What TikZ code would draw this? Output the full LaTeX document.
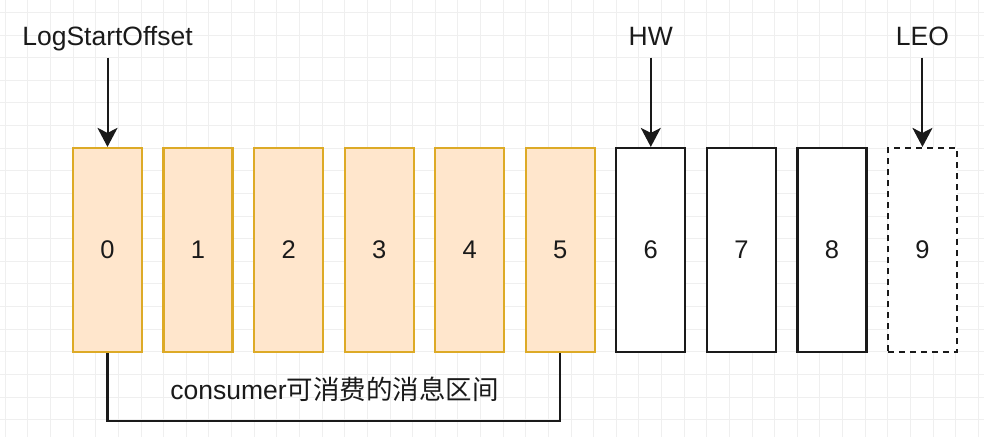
\documentclass[tikz,border=0pt]{standalone}
\usepackage{fontspec}
\setmainfont{Liberation Sans}
\newfontfamily\cjk{Noto Sans CJK SC}
\usetikzlibrary{arrows.meta}
\definecolor{orangefill}{HTML}{FFE6CC}
\definecolor{orangeline}{HTML}{D79B00}
\definecolor{gridc}{HTML}{EFEFEF}
\definecolor{inkc}{HTML}{1A1A1A}
\tikzset{
  gridline/.style={draw=gridc, line width=0.8pt},
  cellbox/.style={draw=inkc, fill=white, line width=2.2pt, minimum width=69pt,
    minimum height=204pt, inner sep=0pt, font=\fontsize{25.5}{30}\selectfont, text=inkc},
  orangecell/.style={cellbox, draw=orangeline!85!white, fill=orangefill},
  dashcell/.style={cellbox, dash pattern=on 6pt off 5pt},
  ptr/.style={draw=inkc, line width=2pt, -{Stealth[length=19pt,width=20pt,inset=5pt]}},
  toplabel/.style={anchor=base, font=\fontsize{26.5}{31}\selectfont, text=inkc, inner sep=0pt},
  bracketline/.style={draw=inkc, line width=2.2pt},
}
\begin{document}
\begin{tikzpicture}[x=1pt,y=-1pt]
\useasboundingbox (0,0) rectangle (984,437);
\fill[white] (0,0) rectangle (984,437);
\begin{scope}
\clip (0,0) rectangle (984,437);
\foreach \i in {0,...,43} \draw[gridline] ({5.2+\i*22.63},0) -- ++(0,437);
\foreach \j in {0,...,19} \draw[gridline] (0,{12.3+\j*22.63}) -- ++(984,0);
\end{scope}
% cells
\foreach \i in {0,...,5} \node[orangecell] (b\i) at ({107.5+\i*90.55},250) {\i};
\foreach \i in {6,7,8} \node[cellbox] (b\i) at ({107.5+\i*90.55},250) {\i};
\node[dashcell] (b9) at ({107.5+9*90.55},250) {9};
% labels
\node[toplabel] (l0) at (107.5,45) {LogStartOffset};
\node[toplabel] (l6) at ({107.5+6*90.55},45) {HW};
\node[toplabel] (l9) at ({107.5+9*90.55},45) {LEO};
% arrows
\coordinate (a0) at (107.5,57.5);
\coordinate (a6) at ({107.5+6*90.55},57.5);
\coordinate (a9) at ({107.5+9*90.55},57.5);
\draw[ptr] (a0) -- (b0.north);
\draw[ptr] (a6) -- (b6.north);
\draw[ptr] (a9) -- (b9.north);
% bracket
\draw[bracketline] (b0.south) -- ++(0,68) -| (b5.south);
\node[toplabel] (rng) at (334.5,399) {consumer{\cjk 可消费的消息区间}};
\end{tikzpicture}
\end{document}
